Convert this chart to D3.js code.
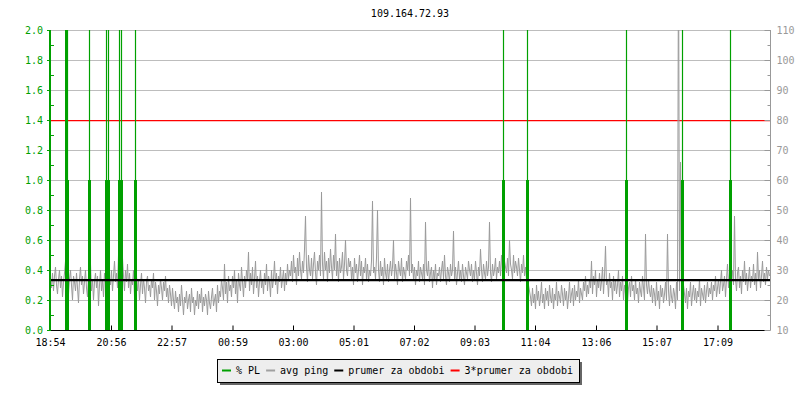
<!DOCTYPE html>
<html>
<head>
<meta charset="utf-8">
<script src="https://cdn.jsdelivr.net/npm/d3@7"></script>
<style>
body { margin: 0; background: #fff; }
text { font-family: "DejaVu Sans Mono", monospace; font-size: 10px; }
</style>
</head>
<body>
<svg width="800" height="400"></svg>
<script>
// ---- data ----
var title = '109.164.72.93';
var startTime = '18:54';
var stepMinutes = 2;       // one ping sample every 2 minutes
var tickLabels = ['18:54', '20:56', '22:57', '00:59', '03:00', '05:01',
                  '07:02', '09:03', '11:04', '13:06', '15:07', '17:09'];

// avg ping [ms], roughly 2 hours per row pair
var pingValues = [
    27,24,29,23,28,31,25,22,27,30,24,28,21,26,29,33,24,34,22,27,30,25,20,28,26,23,29,24,19,27,
    31,25,28,22,26,30,24,21,28,25,32,23,27,20,26,29,24,28,18,25,30,23,27,21,29,26,24,31,22,27,
    25,30,23,28,33,26,29,24,35,27,31,25,34,28,23,30,26,32,24,29,22,27,25,30,21,26,28,23,27,20,
    25,29,22,27,24,19,26,28,23,25,21,27,24,29,20,26,23,18,25,22,27,24,20,26,23,28,21,24,19,25,
    22,18,24,20,17,23,19,21,16,22,18,25,20,15,21,19,23,17,20,22,16,24,19,21,15,20,18,23,17,22,
    19,24,16,21,18,22,20,15,23,19,17,21,24,18,20,22,16,25,19,23,21,27,24,20,32,22,26,19,28,23,
    25,21,28,24,30,22,27,19,29,25,23,31,26,21,28,24,30,27,36,23,29,25,31,22,27,33,24,28,21,26,
    30,24,27,22,29,25,32,23,28,26,21,30,24,27,33,25,29,22,28,26,31,24,27,30,23,29,25,32,27,30,
    28,33,26,35,29,31,25,34,28,36,30,27,33,29,37,48,31,26,35,30,28,34,27,32,36,29,25,33,30,35,
    28,56,32,27,36,30,33,26,34,29,37,31,27,35,30,42,28,33,26,34,29,31,36,27,32,40,30,28,34,31,
    33,27,31,25,34,29,32,26,30,35,28,33,25,31,29,34,27,32,26,30,28,33,53,29,31,27,34,50,30,26,
    33,28,31,25,34,29,27,32,26,30,33,28,31,40,27,32,29,25,33,30,28,34,26,31,29,27,33,30,35,28,
    54,29,32,27,31,25,30,28,33,26,31,29,27,32,25,46,30,28,33,26,29,31,24,30,27,32,25,29,28,31,
    26,30,33,27,35,28,25,31,29,26,32,28,30,43,27,31,25,29,33,27,30,26,32,28,25,31,29,27,33,30,
    28,32,26,30,27,33,29,25,31,28,37,30,26,32,29,27,33,28,31,46,29,26,32,28,30,34,27,31,29,33,
    28,35,30,27,33,31,29,34,28,40,32,30,27,35,29,33,31,28,34,30,26,32,29,35,28,31,27,30,25,23,
    21,18,24,19,22,17,25,20,23,18,21,26,19,22,17,24,20,23,18,25,21,19,24,17,22,20,26,18,23,21,
    19,25,22,18,24,20,23,17,21,26,19,22,24,18,25,20,23,21,27,19,24,22,20,26,23,28,21,25,22,27,
    24,33,22,28,25,30,21,27,24,29,23,26,31,22,28,38,25,27,21,29,24,26,20,28,23,27,22,25,30,21,
    26,23,28,20,25,22,27,19,24,26,21,28,23,25,20,27,22,24,19,26,23,21,28,24,20,42,25,22,27,23,
    21,25,19,24,22,18,26,20,23,17,25,21,24,19,22,26,20,42,23,18,25,21,19,24,22,17,26,20,140,23,
    66,21,18,25,22,19,24,17,23,21,26,18,22,25,20,24,19,23,21,27,18,24,22,20,25,19,23,26,21,24,
    22,26,20,25,23,28,21,24,27,22,26,30,23,25,28,21,27,32,24,29,22,26,30,25,48,27,23,29,31,24,
    28,22,30,26,33,25,29,23,27,31,24,28,26,32,25,29,23,36,27,30,24,28,33,26,29,25,31,27,30,28
];

// packet loss events [%]
var plTimes = ['19:25', '19:28', '20:11', '20:45', '20:49', '21:11', '21:16', '21:44',
               '09:59', '10:47', '14:05', '15:57', '17:34'];
var plBase  = [3, 1, 1, 1, 1, 1, 1, 1, 1, 1, 1, 1, 1];
var plPeak  = [3, 3, 3, 3, 3, 3, 3, 3, 3, 3, 3, 3, 3];

var meanPing = 26.6;   // prumer za obdobi

var legendLabels = ['% PL', 'avg ping', 'prumer za obdobi', '3*prumer za obdobi'];
var legendColors = ['#00a000', '#a0a0a0', '#000000', '#ff0000'];

// ---- layout ----
var svg = d3.select('svg');
var plot = {l: 50, r: 770, t: 30, b: 330};
var green = '#00a000', grey = '#999999';

function parseClock(s) {
    var p = s.split(':');
    var d = new Date(2020, 0, 1, +p[0], +p[1]);
    var s0 = startTime.split(':');
    if (+p[0] * 60 + +p[1] < +s0[0] * 60 + +s0[1]) d.setDate(2);
    return d;
}
var t0 = parseClock(startTime);

var xScale = d3.scaleTime()
    .domain([t0, new Date(+t0 + 24 * 3600 * 1000)])
    .range([plot.l, plot.r]);
var yLeft = d3.scaleLinear().domain([0, 2]).range([plot.b, plot.t]);
var yRight = d3.scaleLinear().domain([10, 110]).range([plot.b, plot.t]);

var pingData = pingValues.map(function(v, i) {
    return {t: new Date(+t0 + i * stepMinutes * 60000), v: v};
});

// clip for the plot area
svg.append('clipPath').attr('id', 'clip')
  .append('rect').attr('x', plot.l).attr('y', plot.t)
    .attr('width', plot.r - plot.l).attr('height', plot.b - plot.t);

// gridlines
svg.append('g').selectAll('line')
    .data(d3.range(0.2, 2.01, 0.2))
    .enter().append('line')
    .attr('x1', plot.l).attr('x2', plot.r)
    .attr('y1', function(d) { return Math.round(yLeft(d)) + 0.5; })
    .attr('y2', function(d) { return Math.round(yLeft(d)) + 0.5; })
    .attr('stroke', '#bdbdbd').attr('stroke-width', 1);

// 3 * mean
svg.append('line')
    .attr('x1', plot.l).attr('x2', plot.r)
    .attr('y1', yRight(meanPing * 3)).attr('y2', yRight(meanPing * 3))
    .attr('stroke', '#ff0000').attr('stroke-width', 1.3);

// ping line
var line = d3.line()
    .x(function(d) { return Math.round(xScale(d.t)) + 0.5; })
    .y(function(d) { return yRight(d.v); });
svg.append('path')
    .datum(pingData)
    .attr('clip-path', 'url(#clip)')
    .attr('d', line)
    .attr('fill', 'none')
    .attr('stroke', '#9a9a9a')
    .attr('stroke-width', 1);

// packet loss spikes
var plG = svg.append('g').attr('clip-path', 'url(#clip)');
plTimes.forEach(function(s, i) {
    var x = Math.round(xScale(parseClock(s))) + 0.5;
    var base = Math.min(plBase[i], 2.05), peak = Math.min(plPeak[i], 2.05);
    plG.append('line')
        .attr('x1', x).attr('x2', x)
        .attr('y1', yLeft(0)).attr('y2', yLeft(base))
        .attr('stroke', green).attr('stroke-width', 3);
    plG.append('line')
        .attr('x1', x).attr('x2', x)
        .attr('y1', yLeft(base)).attr('y2', yLeft(peak))
        .attr('stroke', green).attr('stroke-width', 1.2);
});

// mean
svg.append('line')
    .attr('x1', plot.l).attr('x2', plot.r)
    .attr('y1', yRight(meanPing)).attr('y2', yRight(meanPing))
    .attr('stroke', '#000').attr('stroke-width', 2.2);

// x axis
var xAxis = d3.axisBottom(xScale)
    .tickValues(tickLabels.map(parseClock))
    .tickFormat(function(d, i) { return tickLabels[i]; })
    .tickSize(-5).tickPadding(8);
var xg = svg.append('g')
    .attr('transform', 'translate(0,' + (plot.b + 0.5) + ')')
    .call(xAxis);
xg.select('.domain').attr('stroke', '#000').attr('d', 'M' + plot.l + ',0H' + plot.r);
xg.selectAll('line').attr('stroke', '#000');
xg.selectAll('text').attr('fill', '#000').style('font-size', '10px')
    .style('font-family', '"DejaVu Sans Mono", monospace');

// left axis (% PL)
var yAxisL = d3.axisLeft(yLeft)
    .tickValues(d3.range(0, 2.01, 0.2))
    .tickFormat(d3.format('.1f'))
    .tickSize(3).tickPadding(4);
var ylg = svg.append('g')
    .attr('transform', 'translate(' + plot.l + ',0)')
    .call(yAxisL);
ylg.select('.domain').attr('stroke', green).attr('stroke-width', 2)
    .attr('d', 'M0,' + plot.t + 'V' + (plot.b + 1));
ylg.selectAll('line').attr('stroke', green);
ylg.selectAll('text').attr('fill', green).style('font-size', '10px')
    .style('font-family', '"DejaVu Sans Mono", monospace');

var ylm = svg.append('g')
    .attr('transform', 'translate(' + (plot.l + 1) + ',0)')
    .call(d3.axisRight(yLeft).tickValues(d3.range(0.1, 2, 0.2)).tickSize(3).tickFormat(''));
ylm.select('.domain').remove();
ylm.selectAll('line').attr('stroke', green);

// right axis (ping ms)
var yAxisR = d3.axisRight(yRight)
    .tickValues(d3.range(10, 111, 10))
    .tickSize(-6).tickPadding(6);
var yrg = svg.append('g')
    .attr('transform', 'translate(' + (plot.r + 0.5) + ',0)')
    .call(yAxisR);
yrg.select('.domain').attr('stroke', grey).attr('d', 'M0,' + plot.t + 'V' + (plot.b + 0.5));
yrg.selectAll('line').attr('stroke', grey);
yrg.selectAll('text').attr('fill', grey).style('font-size', '10px')
    .style('font-family', '"DejaVu Sans Mono", monospace');

var yrm = svg.append('g')
    .attr('transform', 'translate(' + (plot.r + 0.5) + ',0)')
    .call(d3.axisRight(yRight).tickValues(d3.range(15, 110, 10)).tickSize(-3).tickFormat(''));
yrm.select('.domain').remove();
yrm.selectAll('line').attr('stroke', grey);

// title
svg.append('text')
    .attr('x', (plot.l + plot.r) / 2).attr('y', 17)
    .attr('text-anchor', 'middle')
    .attr('fill', '#000')
    .text(title);

// legend
var lg = svg.append('g');
lg.append('rect').attr('x', 220).attr('y', 362).attr('width', 362).attr('height', 23)
    .attr('fill', '#666');
lg.append('rect').attr('x', 217.5).attr('y', 359.5).attr('width', 362).attr('height', 23)
    .attr('fill', '#eeeeee').attr('stroke', '#000').attr('stroke-width', 1);
var lx = 222;
legendLabels.forEach(function(label, i) {
    lg.append('line')
        .attr('x1', lx).attr('x2', lx + 9)
        .attr('y1', 370.5).attr('y2', 370.5)
        .attr('stroke', legendColors[i]).attr('stroke-width', 2);
    var t = lg.append('text')
        .attr('x', lx + 14).attr('y', 374)
        .attr('fill', '#000')
        .text(label);
    lx += 14 + t.node().getComputedTextLength() + 6;
});
</script>
</body>
</html>
